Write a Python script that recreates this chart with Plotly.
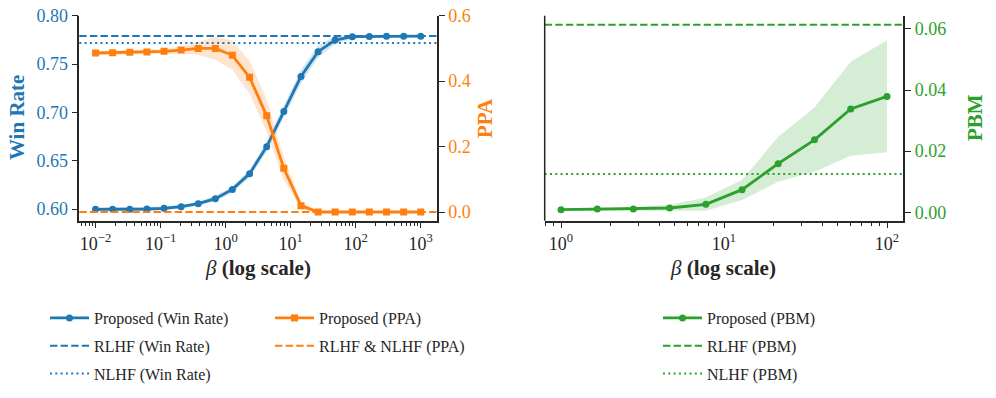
import plotly.graph_objects as go

# ---------------- data ----------------
beta_left = [0.01, 0.0183, 0.0336, 0.0616, 0.113, 0.207, 0.379, 0.695, 1.27, 2.34,
             4.28, 7.85, 14.4, 26.4, 48.3, 88.6, 162, 298, 546, 1000]
win_rate = [0.5997, 0.5997, 0.5997, 0.6000, 0.6007, 0.6024, 0.6055, 0.6107, 0.6203, 0.6366,
            0.6645, 0.7010, 0.7372, 0.7628, 0.7748, 0.7783, 0.7786, 0.7788, 0.7788, 0.7788]
win_rate_std = [0.002, 0.002, 0.002, 0.002, 0.002, 0.002, 0.002, 0.003, 0.003, 0.004,
                0.005, 0.006, 0.007, 0.006, 0.004, 0.002, 0.001, 0.001, 0.001, 0.001]
ppa = [0.486, 0.487, 0.488, 0.489, 0.491, 0.495, 0.500, 0.500, 0.479, 0.4115,
       0.294, 0.1334, 0.0194, 0.0, 0.0, 0.0, 0.0, 0.0, 0.0, 0.0]
ppa_std = [0.006, 0.006, 0.006, 0.006, 0.007, 0.010, 0.020, 0.035, 0.045, 0.050,
           0.050, 0.035, 0.012, 0.004, 0.003, 0.003, 0.003, 0.003, 0.003, 0.003]
rlhf_win_rate = 0.779
nlhf_win_rate = 0.7717
rlhf_nlhf_ppa = 0.0

beta_right = [1, 1.67, 2.78, 4.64, 7.74, 12.9, 21.5, 35.9, 59.9, 100]
pbm = [0.00087, 0.0011, 0.0011, 0.0014, 0.0026, 0.0074, 0.0159, 0.0237, 0.0338, 0.0379]
pbm_lower = [0.0005, 0.0007, 0.0006, 0.0005, 0.0005, 0.0040, 0.0100, 0.0133, 0.0185, 0.0196]
pbm_upper = [0.0012, 0.0015, 0.0016, 0.0025, 0.0048, 0.0106, 0.0247, 0.0343, 0.0492, 0.0563]
rlhf_pbm = 0.0613
nlhf_pbm = 0.0125

left_xticks = [0.01, 0.1, 1, 10, 100, 1000]
left_xticktext = ["10<sup>−2</sup>", "10<sup>−1</sup>", "10<sup>0</sup>",
                  "10<sup>1</sup>", "10<sup>2</sup>", "10<sup>3</sup>"]
right_xticks = [1, 10, 100]
right_xticktext = ["10<sup>0</sup>", "10<sup>1</sup>", "10<sup>2</sup>"]
wr_ticks = [0.60, 0.65, 0.70, 0.75, 0.80]
ppa_ticks = [0.0, 0.2, 0.4, 0.6]
pbm_ticks = [0.00, 0.02, 0.04, 0.06]

# ---------------- style ----------------
BLUE = "#1f77b4"
ORANGE = "#ff7f0e"
GREEN = "#2ca02c"
INK = "#262626"
FONT = "'Liberation Serif', 'Times New Roman', Times, 'DejaVu Serif', serif"
DASH = "7.4px,3.2px"
DOT = "2px,3.3px"
W, H = 996, 398


def minor_vals(lo_exp, hi_exp, lo, hi):
    vals = []
    for e in range(lo_exp, hi_exp + 1):
        for m in range(2, 10):
            v = m * 10 ** e
            if lo <= v <= hi:
                vals.append(v)
    return vals


fig = go.Figure()

# ----- left panel -----
wr_up = [v + s for v, s in zip(win_rate, win_rate_std)]
wr_lo = [v - s for v, s in zip(win_rate, win_rate_std)]
fig.add_trace(go.Scatter(x=beta_left + beta_left[::-1], y=wr_up + wr_lo[::-1],
                         fill="toself", fillcolor="rgba(31,119,180,0.2)",
                         line=dict(width=0), mode="lines", hoverinfo="skip",
                         showlegend=False, xaxis="x", yaxis="y"))
fig.add_trace(go.Scatter(x=beta_left, y=win_rate, mode="lines+markers",
                         name="Proposed (Win Rate)",
                         line=dict(color=BLUE, width=2.8),
                         marker=dict(symbol="circle", size=7, color=BLUE),
                         xaxis="x", yaxis="y", legend="legend", legendgroup="a1"))

ppa_up = [v + s for v, s in zip(ppa, ppa_std)]
ppa_lo = [v - s for v, s in zip(ppa, ppa_std)]
fig.add_trace(go.Scatter(x=beta_left + beta_left[::-1], y=ppa_up + ppa_lo[::-1],
                         fill="toself", fillcolor="rgba(255,127,14,0.2)",
                         line=dict(width=0), mode="lines", hoverinfo="skip",
                         showlegend=False, xaxis="x", yaxis="y2"))
fig.add_trace(go.Scatter(x=beta_left, y=ppa, mode="lines+markers",
                         name="Proposed (PPA)",
                         line=dict(color=ORANGE, width=2.8),
                         marker=dict(symbol="square", size=7, color=ORANGE),
                         xaxis="x", yaxis="y2", legend="legend2", legendgroup="b1"))

# ----- right panel -----
fig.add_trace(go.Scatter(x=beta_right + beta_right[::-1], y=pbm_upper + pbm_lower[::-1],
                         fill="toself", fillcolor="rgba(44,160,44,0.2)",
                         line=dict(width=0), mode="lines", hoverinfo="skip",
                         showlegend=False, xaxis="x2", yaxis="y3"))
fig.add_trace(go.Scatter(x=beta_right, y=pbm, mode="lines+markers",
                         name="Proposed (PBM)",
                         line=dict(color=GREEN, width=2.8),
                         marker=dict(symbol="circle", size=7, color=GREEN),
                         xaxis="x2", yaxis="y3", legend="legend3", legendgroup="c1"))

# ----- reference lines (shapes) + legend entries -----
ref_lines = [
    ("RLHF (Win Rate)", rlhf_win_rate, "x", "y", BLUE, DASH, "legend", "a2"),
    ("NLHF (Win Rate)", nlhf_win_rate, "x", "y", BLUE, DOT, "legend", "a3"),
    ("RLHF & NLHF (PPA)", rlhf_nlhf_ppa, "x", "y2", ORANGE, DASH, "legend2", "b2"),
    ("RLHF (PBM)", rlhf_pbm, "x2", "y3", GREEN, DASH, "legend3", "c2"),
    ("NLHF (PBM)", nlhf_pbm, "x2", "y3", GREEN, DOT, "legend3", "c3"),
]
for name, val, xa, ya, col, dash, leg, grp in ref_lines:
    fig.add_shape(type="line", xref=f"{xa} domain", x0=0, x1=1, yref=ya, y0=val, y1=val,
                  line=dict(color=col, width=2, dash=dash), layer="above")
    fig.add_trace(go.Scatter(x=[None], y=[None], mode="lines", name=name,
                             line=dict(color=col, width=2, dash=dash),
                             xaxis=xa, yaxis=ya, legend=leg, legendgroup=grp))

# left spine of the right panel
fig.add_shape(type="line", xref="x2 domain", x0=0, x1=0, yref="y3 domain", y0=0, y1=1,
              line=dict(color=INK, width=1.5))

# ---------------- axes ----------------
ytop, ybot = 15.7, 220.7
ydom = [(H - ybot) / H, (H - ytop) / H]
tickcommon = dict(showline=True, linecolor=INK, linewidth=1.5, ticks="outside",
                  ticklen=6, tickwidth=1.3, tickcolor=INK, showgrid=False,
                  zeroline=False, automargin=False)

fig.update_layout(
    width=W, height=H, autosize=False,
    margin=dict(l=0, r=0, t=0, b=0, pad=0, autoexpand=False),
    paper_bgcolor="white", plot_bgcolor="white",
    font=dict(family=FONT, color=INK),
    xaxis=dict(type="log", domain=[79.3 / W, 437 / W], range=[-2.25, 3.25],
               anchor="y", tickmode="array", tickvals=left_xticks,
               ticktext=left_xticktext, tickfont=dict(family=FONT, size=18, color=INK),
               minor=dict(tickmode="array",
                          tickvals=minor_vals(-3, 3, 10 ** -2.25, 10 ** 3.25),
                          ticks="outside", ticklen=3.5, tickwidth=1, tickcolor=INK),
               **tickcommon),
    yaxis=dict(domain=ydom, range=[0.5879, 0.80], anchor="x",
               tickmode="array", tickvals=wr_ticks,
               ticktext=[f"{v:.2f}" for v in wr_ticks],
               tickfont=dict(family=FONT, size=18, color=BLUE), **tickcommon),
    yaxis2=dict(overlaying="y", side="right", anchor="x", range=[-0.0266, 0.6],
                tickmode="array", tickvals=ppa_ticks,
                ticktext=[f"{v:.1f}" for v in ppa_ticks],
                tickfont=dict(family=FONT, size=18, color=ORANGE), **tickcommon),
    xaxis2=dict(type="log", domain=[544.7 / W, 903.3 / W], range=[-0.1, 2.1],
                anchor="y3", tickmode="array", tickvals=right_xticks,
                ticktext=right_xticktext, tickfont=dict(family=FONT, size=18, color=INK),
                minor=dict(tickmode="array",
                           tickvals=minor_vals(-1, 2, 10 ** -0.1, 10 ** 2.1),
                           ticks="outside", ticklen=3.5, tickwidth=1, tickcolor=INK),
                **tickcommon),
    yaxis3=dict(domain=ydom, side="right", anchor="x2", range=[-0.00275, 0.0643],
                tickmode="array", tickvals=pbm_ticks,
                ticktext=[f"{v:.2f}" for v in pbm_ticks],
                tickfont=dict(family=FONT, size=18, color=GREEN), **tickcommon),
)

legend_common = dict(font=dict(family=FONT, size=16, color=INK), bgcolor="rgba(0,0,0,0)",
                     orientation="v", xanchor="left", yanchor="top", itemwidth=39,
                     traceorder="grouped", tracegroupgap=4)
fig.update_layout(
    legend=dict(x=45 / W, y=(H - 301) / H, **legend_common),
    legend2=dict(x=270 / W, y=(H - 301) / H, **legend_common),
    legend3=dict(x=658 / W, y=(H - 301) / H, **legend_common),
)

# ---------------- axis titles ----------------
yc = (H - 118) / H
ann_font = dict(family=FONT, size=21)
fig.add_annotation(text="<b>Win Rate</b>", x=17 / W, y=yc, xref="paper", yref="paper",
                   textangle=-90, showarrow=False, xanchor="center", yanchor="middle",
                   font=dict(color=BLUE, **ann_font))
fig.add_annotation(text="<b>PPA</b>", x=485 / W, y=yc, xref="paper", yref="paper",
                   textangle=-90, showarrow=False, xanchor="center", yanchor="middle",
                   font=dict(color=ORANGE, **ann_font))
fig.add_annotation(text="<b>PBM</b>", x=975 / W, y=yc, xref="paper", yref="paper",
                   textangle=-90, showarrow=False, xanchor="center", yanchor="middle",
                   font=dict(color=GREEN, **ann_font))
for xc in (258, 723):
    fig.add_annotation(text="<i>β</i> <b>(log scale)</b>", x=xc / W, y=(H - 268) / H,
                       xref="paper", yref="paper", showarrow=False,
                       xanchor="center", yanchor="middle",
                       font=dict(color=INK, **ann_font))

fig.write_html(
    "out.html",
    config={"responsive": False, "displayModeBar": False},
    post_script="document.body.style.margin='0';document.body.style.overflow='hidden';",
)
